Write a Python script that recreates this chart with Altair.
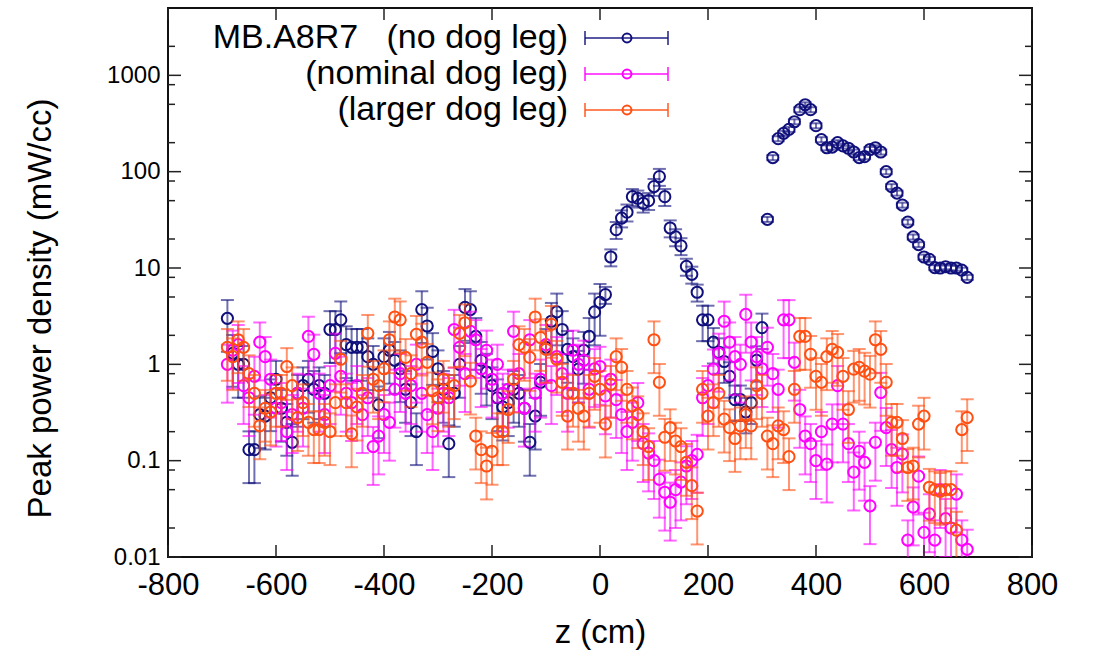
import altair as alt
import pandas as pd

# ---------------- data ----------------
z_cm = [
    -690, -680, -670, -660, -650, -640, -630, -620, -610, -600,
    -590, -580, -570, -560, -550, -540, -530, -520, -510, -500,
    -490, -480, -470, -460, -450, -440, -430, -420, -410, -400,
    -390, -380, -370, -360, -350, -340, -330, -320, -310, -300,
    -290, -280, -270, -260, -250, -240, -230, -220, -210, -200,
    -190, -180, -170, -160, -150, -140, -130, -120, -110, -100,
    -90, -80, -70, -60, -50, -40, -30, -20, -10, 0,
    10, 20, 30, 40, 50, 60, 70, 80, 90, 100,
    110, 120, 130, 140, 150, 160, 170, 180, 190, 200,
    210, 220, 230, 240, 250, 260, 270, 280, 290, 300,
    310, 320, 330, 340, 350, 360, 370, 380, 390, 400,
    410, 420, 430, 440, 450, 460, 470, 480, 490, 500,
    510, 520, 530, 540, 550, 560, 570, 580, 590, 600,
    610, 620, 630, 640, 650, 660, 670, 680,
]

no_dog_leg = [
    3.0, 1.3, 1.0, 1.0, 0.13, 0.13, 0.3, 0.29, 0.45, 0.7,
    0.35, 0.25, 0.155, 0.5, 0.6, 0.7, 0.55, 0.6, 0.5, 2.3,
    2.3, 2.9, 1.6, 1.5, 1.5, 1.5, 1.2, 1.0, 0.38, 1.2,
    1.4, 1.1, 0.9, 0.55, 0.4, 0.2, 3.7, 2.5, 1.36, 0.9,
    0.55, 0.15, 0.5, 1.0, 3.9, 3.7, 1.95, 1.1, 0.83, 0.6,
    0.45, 0.36, 0.4, 0.55, 0.5, 0.35, 0.155, 0.29, 0.65, 1.5,
    2.8, 3.5, 2.3, 1.43, 1.2, 0.89, 1.4, 1.95, 3.5, 4.4,
    5.3, 13, 25, 33, 38, 55, 53, 47, 50, 70,
    89, 55, 26, 21, 17, 10.4, 8.6, 5.6, 2.9, 2.9,
    1.7, 1.33, 1.07, 0.75, 0.43, 0.43, 0.32, 0.4, 1.1, 2.4,
    32, 140, 220, 250, 275, 330, 440, 495, 440, 300,
    215, 177, 180, 200, 185, 175, 160, 140, 143, 170,
    177, 160, 100, 70, 60, 45, 30, 21, 17.5, 13,
    12.3, 10.1, 10, 10.3, 10, 10, 9.5, 8,
]

nominal_dog_leg = [
    1.0, 1.4, 1.6, 0.6, 0.45, 0.75, 1.7, 1.2, 0.7, 0.35,
    0.4, 0.2, 0.3, 0.5, 0.35, 1.95, 1.27, 0.5, 0.3, 0.6,
    1.3, 0.75, 0.5, 0.4, 0.6, 0.3, 0.45, 0.14, 0.18, 0.3,
    0.25, 0.55, 0.8, 0.5, 0.6, 1.0, 0.5, 0.3, 0.2, 0.35,
    0.5, 0.45, 2.3, 1.5, 0.8, 2.2, 1.8, 0.9, 1.4, 0.7,
    1.0, 0.5, 0.55, 2.2, 0.8, 0.35, 1.8, 0.5, 0.7, 1.6,
    0.6, 1.2, 0.8, 0.5, 1.4, 1.0, 1.1, 0.55, 0.9, 0.95,
    0.47, 0.7, 0.43, 0.3, 0.2, 0.25, 0.4, 0.15, 0.12, 0.1,
    0.064, 0.047, 0.037, 0.05, 0.06, 0.088, 0.1, 0.116, 0.45, 0.6,
    0.89, 1.3, 2.8, 1.7, 1.2, 1.0, 3.3, 1.7, 1.2, 0.9,
    1.5, 0.8, 0.55, 2.9, 2.9, 1.05, 0.34, 0.18, 0.15, 0.1,
    0.2, 0.092, 0.24, 0.6, 0.24, 0.15, 0.076, 0.125, 0.096, 0.034,
    0.155, 0.51, 0.22, 0.13, 0.085, 0.117, 0.015, 0.033, 0.069, 0.018,
    0.028, 0.015, 0.05, 0.025, 0.02, 0.045, 0.015, 0.012,
]

larger_dog_leg = [
    1.5, 1.2, 1.8, 1.5, 0.8, 0.5, 0.23, 0.35, 0.32, 0.5,
    0.5, 0.95, 0.6, 0.28, 0.4, 0.25, 0.21, 0.21, 0.25, 0.2,
    0.4, 1.13, 0.4, 0.19, 0.36, 0.5, 2.1, 0.7, 0.6, 0.9,
    1.8, 3.1, 2.9, 1.18, 0.8, 2.05, 1.7, 1.05, 0.53, 0.45,
    0.7, 0.5, 0.6, 2.1, 2.7, 0.67, 0.18, 0.13, 0.088, 0.125,
    0.2, 0.2, 0.34, 0.7, 1.6, 1.5, 1.18, 3.1, 1.9, 1.43,
    2.6, 1.13, 0.65, 0.29, 0.5, 0.35, 0.29, 0.5, 0.75, 0.55,
    0.24, 0.62, 1.2, 0.93, 0.55, 0.37, 0.3, 0.2, 0.14, 1.8,
    0.65, 0.175, 0.22, 0.16, 0.14, 0.096, 0.055, 0.03, 0.55, 0.29,
    0.4, 0.5, 0.27, 0.22, 0.17, 0.23, 0.3, 0.23, 0.6, 0.5,
    0.18, 0.15, 0.23, 0.21, 0.11, 0.55, 1.95, 1.95, 1.27, 0.75,
    0.65, 1.2, 1.43, 1.33, 0.75, 0.34, 0.89, 0.93, 0.85, 0.79,
    1.8, 1.43, 0.65, 0.25, 0.25, 0.17, 0.085, 0.088, 0.24, 0.29,
    0.053, 0.05, 0.048, 0.05, 0.05, 0.019, 0.21, 0.28,
]

series_names = ["no dog leg", "nominal dog leg", "larger dog leg"]
legend_labels = [
    "MB.A8R7\u00a0\u00a0\u00a0(no dog leg)",
    "(nominal dog leg)",
    "(larger dog leg)",
]
series_colors = ["#10107c", "#ff00ff", "#ff4f12"]

# relative error bar half-length, by z range: (z_from, z_to, fraction)
rel_err_no = [(-700, 5, 0.55), (5, 190, 0.2), (190, 305, 0.4), (305, 700, 0.06)]
rel_err_nominal = [(-700, 700, 0.6)]
rel_err_larger = [(-700, 700, 0.55)]

x_tick_values = [-800, -600, -400, -200, 0, 200, 400, 600, 800]
y_major_ticks = [0.01, 0.1, 1, 10, 100, 1000]
y_minor_ticks = [0.02, 0.05, 0.08, 0.2, 0.5, 0.8, 2, 5, 8, 20, 50, 80,
                 200, 500, 800, 2000]

# ---------------- build tables ----------------
def rel_err_at(z, segs):
    for a, b, r in segs:
        if a <= z < b:
            return r
    return segs[-1][2]

series_values = [no_dog_leg, nominal_dog_leg, larger_dog_leg]
series_errs = [rel_err_no, rel_err_nominal, rel_err_larger]

frames = []
for name, vals, segs in zip(series_names, series_values, series_errs):
    rows = []
    for z, v in zip(z_cm, vals):
        r = rel_err_at(z, segs)
        rows.append({"z": z, "v": v, "lo": v * (1 - r), "hi": v * (1 + r),
                     "series": name})
    frames.append(pd.DataFrame(rows))

FONT = "Liberation Sans"
W, H = 864, 549
XTICK_FS = 31
YTICK_FS = 24
TITLE_FS = 33
KEY_FS = 34

xscale = alt.Scale(domain=[-800, 800], nice=False, zero=False)
yscale = alt.Scale(type="log", domain=[0.01, 5000], nice=False)

xaxis = alt.Axis(values=x_tick_values, labelExpr="'' + datum.value",
                 title="z (cm)", grid=False, ticks=False, domain=False,
                 labelFont=FONT, labelFontSize=XTICK_FS, labelColor="black",
                 labelPadding=13, titleFont=FONT, titleFontSize=TITLE_FS,
                 titleFontWeight="normal", titleColor="black", titlePadding=16,
                 labelFlush=False)
yaxis = alt.Axis(values=y_major_ticks, labelExpr="'' + datum.value",
                 title="Peak power density (mW/cc)", grid=False, ticks=False,
                 domain=False, labelFont=FONT, labelFontSize=YTICK_FS,
                 labelColor="black", labelPadding=8, titleFont=FONT,
                 titleFontSize=TITLE_FS, titleFontWeight="normal",
                 titleColor="black", titlePadding=49, titleY=300,
                 labelFlush=False)


def X(field="z"):
    return alt.X(f"{field}:Q", scale=xscale, axis=xaxis)


def Y(field):
    return alt.Y(f"{field}:Q", scale=yscale, axis=yaxis)


layers = []
for df, color in zip(frames, series_colors):
    base = alt.Chart(df)
    layers.append(base.mark_rule(color=color, strokeWidth=2, opacity=0.6,
                                 clip=True)
                  .encode(x=X(), y=Y("lo"), y2="hi:Q"))
    for f in ["lo", "hi"]:
        layers.append(base.mark_tick(color=color, orient="horizontal",
                                     size=13, thickness=2, opacity=0.6,
                                     clip=True)
                      .encode(x=X(), y=Y(f)))
    layers.append(base.mark_point(shape="circle", filled=False, size=125,
                                  strokeWidth=2, color=color, opacity=1,
                                  clip=True)
                  .encode(x=X(), y=Y("v")))

# inward ticks (gnuplot style, mirrored)
ymaj = alt.Chart(pd.DataFrame({"t": y_major_ticks}))
ymin = alt.Chart(pd.DataFrame({"t": y_minor_ticks}))
xt = alt.Chart(pd.DataFrame({"t": x_tick_values}))
tick_style = dict(color="#222222", strokeWidth=1.5)
layers += [
    ymaj.mark_rule(**tick_style).encode(x=alt.value(0), x2=alt.value(13), y=Y("t")),
    ymaj.mark_rule(**tick_style).encode(x=alt.value(W), x2=alt.value(W - 13), y=Y("t")),
    ymin.mark_rule(**tick_style).encode(x=alt.value(0), x2=alt.value(7), y=Y("t")),
    ymin.mark_rule(**tick_style).encode(x=alt.value(W), x2=alt.value(W - 7), y=Y("t")),
    xt.mark_rule(**tick_style).encode(x=X("t"), y=alt.value(H), y2=alt.value(H - 12)),
    xt.mark_rule(**tick_style).encode(x=X("t"), y=alt.value(0), y2=alt.value(12)),
]

# key (top-left, inside the frame)
key_rows = [30, 66, 102]
text_right, line_l, line_r, sym_x = 400, 417, 500, 459
for label, color, yy in zip(legend_labels, series_colors, key_rows):
    kd = alt.Chart(pd.DataFrame({"label": [label]}))
    layers += [
        kd.mark_text(align="right", baseline="middle", font=FONT,
                     fontSize=KEY_FS, color="black")
          .encode(x=alt.value(text_right), y=alt.value(yy), text="label:N"),
        kd.mark_rule(color=color, strokeWidth=2, opacity=0.7)
          .encode(x=alt.value(line_l), x2=alt.value(line_r), y=alt.value(yy)),
        kd.mark_rule(color=color, strokeWidth=2, opacity=0.7)
          .encode(x=alt.value(line_l), y=alt.value(yy - 7), y2=alt.value(yy + 7)),
        kd.mark_rule(color=color, strokeWidth=2, opacity=0.7)
          .encode(x=alt.value(line_r), y=alt.value(yy - 7), y2=alt.value(yy + 7)),
        kd.mark_point(shape="circle", filled=False, size=80, strokeWidth=2,
                      color=color, opacity=1)
          .encode(x=alt.value(sym_x), y=alt.value(yy)),
    ]

chart = (
    alt.layer(*layers)
    .properties(width=W, height=H,
                padding={"left": 168, "top": 8, "right": 62, "bottom": 99},
                autosize=alt.AutoSizeParams(type="none"),
                background="white")
    .configure_view(stroke="#111111", strokeWidth=2)
)

chart.save("out.html", embed_options={"renderer": "svg", "actions": False})
